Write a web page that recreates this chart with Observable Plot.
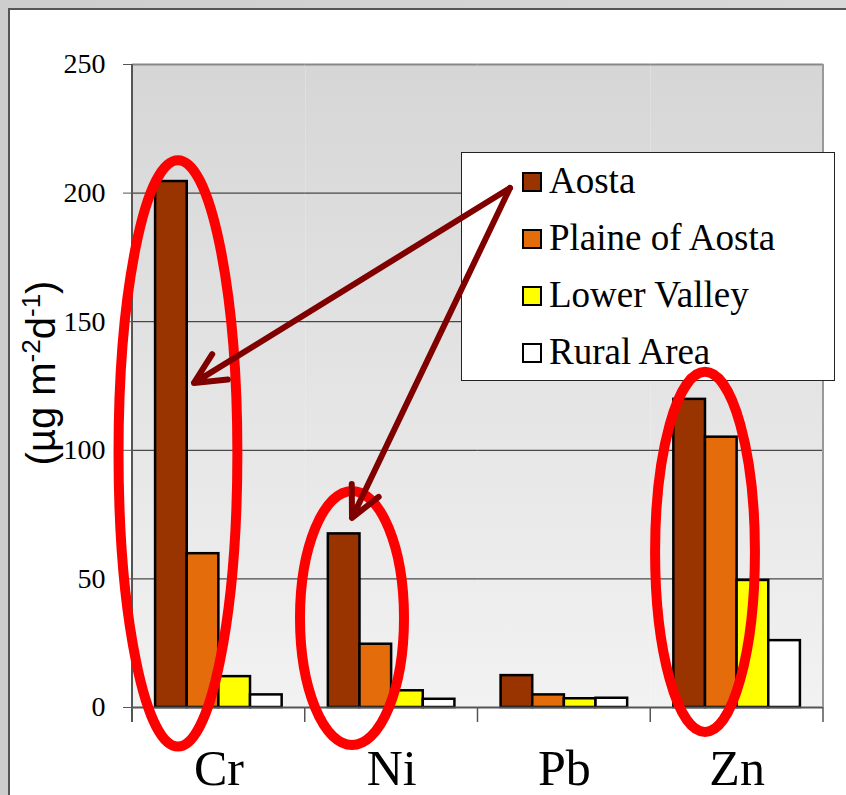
<!DOCTYPE html>
<html><head><meta charset="utf-8">
<script src="https://cdn.jsdelivr.net/npm/d3@7"></script>
<script src="https://cdn.jsdelivr.net/npm/@observablehq/plot@0.6"></script>
<style>
html,body{margin:0;padding:0;}
body{width:846px;height:795px;overflow:hidden;position:relative;background:linear-gradient(90deg,#cdcdcd,#d9d9d9);}
#panel{position:absolute;left:8px;top:8px;width:860px;height:800px;background:#fff;border-left:2px solid #555;border-top:2px solid #555;}
#chart{position:absolute;left:0;top:0;}
.serif{font-family:"Liberation Serif","Times New Roman",serif !important;}
.sans{font-family:"Liberation Sans",Arial,sans-serif !important;}
</style></head><body>
<div id="panel"></div>
<div id="chart"></div>
<script>
// ---- data ----
const categories = ["Cr", "Ni", "Pb", "Zn"];
const series = ["Aosta", "Plaine of Aosta", "Lower Valley", "Rural Area"];
const aosta  = [204.5, 67.5, 12.4, 119.8];
const plaine = [59.8, 24.6, 4.9, 105.1];
const lower  = [12.0, 6.5, 3.4, 49.4];
const rural  = [4.9, 3.2, 3.6, 26.0];
const colors = ["#993300", "#e46c0a", "#ffff00", "#ffffff"];
const yTicks = [0, 50, 100, 150, 200, 250];
const gridValues = [50, 100, 150, 200];
const yLabel = [["(µg m", false], ["-2", true], ["d", false], ["-1", true], [")", false]];

const values = [aosta, plaine, lower, rural];
const table = categories.flatMap((c, i) => series.map((s, j) => ({category: c, series: s, value: values[j][i]})));

// annotation geometry (facet fraction u, value v)
const ellipses = [
  {cat: "Cr", u: 0.266, ru: 0.344, v: 98.6, rv: 114},
  {cat: "Ni", u: 0.2735, ru: 0.301, v: 34.6, rv: 49.4},
  {cat: "Zn", u: 0.317, ru: 0.289, v: 60.3, rv: 70}
];
const arrowStart = {cat: "Pb", u: 0.188, v: 201.8};
const arrowTips = [{cat: "Cr", u: 0.359, v: 126}, {cat: "Ni", u: 0.2735, v: 73.5}];

const plot = Plot.plot({
  width: 846, height: 795,
  marginLeft: 132, marginRight: 23, marginTop: 64, marginBottom: 88,
  style: {background: "transparent", overflow: "visible", fontFamily: "Liberation Serif", color: "#000"},
  fx: {domain: categories, padding: 0, label: null, round: false},
  x: {domain: series, paddingInner: 0, paddingOuter: 0.73, axis: null, round: false},
  y: {domain: [0, 250], label: null},
  color: {domain: series, range: colors},
  marks: [
    Plot.frame({fill: "url(#plotbg)"}),
    Plot.ruleY(gridValues, {stroke: "#222", strokeWidth: 1}),
    Plot.ruleY([250], {stroke: "#888", strokeWidth: 2}),
    Plot.barY(table, {fx: "category", x: "series", y: "value", fill: "series", stroke: "#000", strokeWidth: 2.5}),
    Plot.ruleY([0], {stroke: "#555", strokeWidth: 2}),
    Plot.axisY({ticks: yTicks, tickSize: 9, tickPadding: 18, fontSize: 28, fontFamily: "Liberation Serif", stroke: "#555", label: null}),
    Plot.axisFx({anchor: "bottom", tickSize: 0, tickPadding: 41.5, fontSize: 50, fontFamily: "Liberation Serif", label: null})
  ]
});
document.getElementById("chart").appendChild(plot);

const svg = d3.select(plot);
const defs = svg.insert("defs", ":first-child");
const grad = defs.append("linearGradient").attr("id", "plotbg").attr("x1", 0).attr("y1", 0).attr("x2", 0).attr("y2", 1);
grad.append("stop").attr("offset", 0).attr("stop-color", "#d6d6d6");
grad.append("stop").attr("offset", 1).attr("stop-color", "#f2f2f2");

const fx = plot.scale("fx"), y = plot.scale("y");
const bw = fx.bandwidth;
const X = (cat, u) => fx.apply(cat) + u * bw;
const Y = v => y.apply(v);
const edges = categories.map(c => fx.apply(c)).concat([fx.apply(categories[categories.length - 1]) + bw]);
const y0 = Y(0), yTop = Y(250);

// frame lines
const fr = svg.append("g");
fr.append("line").attr("x1", edges[edges.length - 1]).attr("x2", edges[edges.length - 1]).attr("y1", yTop).attr("y2", y0).attr("stroke", "#999").attr("stroke-width", 2);
edges.forEach(e => fr.append("line").attr("x1", e).attr("x2", e).attr("y1", y0).attr("y2", y0 + 15).attr("stroke", "#555").attr("stroke-width", 1.5));
fr.append("line").attr("x1", edges[0]).attr("x2", edges[0]).attr("y1", yTop).attr("y2", y0 + 15).attr("stroke", "#555").attr("stroke-width", 2);

// y label
const lab = svg.append("text").attr("class", "sans").attr("transform", "translate(55,373) rotate(-90)")
  .attr("text-anchor", "middle").attr("font-size", 40).attr("fill", "#000");
yLabel.forEach(([t, sup]) => {
  lab.append("tspan").attr("font-size", sup ? 26 : 40).attr("dy", sup ? -15 : 15).text(t);
});
lab.select("tspan").attr("dy", 0);

// legend
const lg = svg.append("g").attr("text-anchor", "start");
lg.append("rect").attr("x", 461.5).attr("y", 152.5).attr("width", 373).attr("height", 228).attr("fill", "#fff").attr("stroke", "#222").attr("stroke-width", 1);
series.forEach((s, i) => {
  lg.append("rect").attr("x", 523).attr("y", 173 + 57 * i).attr("width", 18).attr("height", 18).attr("fill", colors[i]).attr("stroke", "#000").attr("stroke-width", 2);
  lg.append("text").attr("class", "serif").attr("x", 549).attr("y", 193 + 57 * i).attr("text-anchor", "start").attr("font-size", 37).attr("fill", "#000").text(s);
});

// annotations
const an = svg.append("g");
ellipses.forEach(e => {
  an.append("ellipse").attr("cx", X(e.cat, e.u)).attr("cy", Y(e.v)).attr("rx", e.ru * bw).attr("ry", (Y(e.v - e.rv) - Y(e.v + e.rv)) / 2)
    .attr("fill", "none").attr("stroke", "#ff0000").attr("stroke-width", 10);
});
const sx = X(arrowStart.cat, arrowStart.u), sy = Y(arrowStart.v);
arrowTips.forEach(t => {
  const tx = X(t.cat, t.u), ty = Y(t.v);
  const a = Math.atan2(sy - ty, sx - tx), L = 34, da = 26 * Math.PI / 180;
  const p = `M${sx},${sy}L${tx},${ty}M${tx + L * Math.cos(a + da)},${ty + L * Math.sin(a + da)}L${tx},${ty}L${tx + L * Math.cos(a - da)},${ty + L * Math.sin(a - da)}`;
  an.append("path").attr("d", p).attr("fill", "none").attr("stroke", "#800000").attr("stroke-width", 6).attr("stroke-linecap", "round").attr("stroke-linejoin", "round");
});
</script>
</body></html>
